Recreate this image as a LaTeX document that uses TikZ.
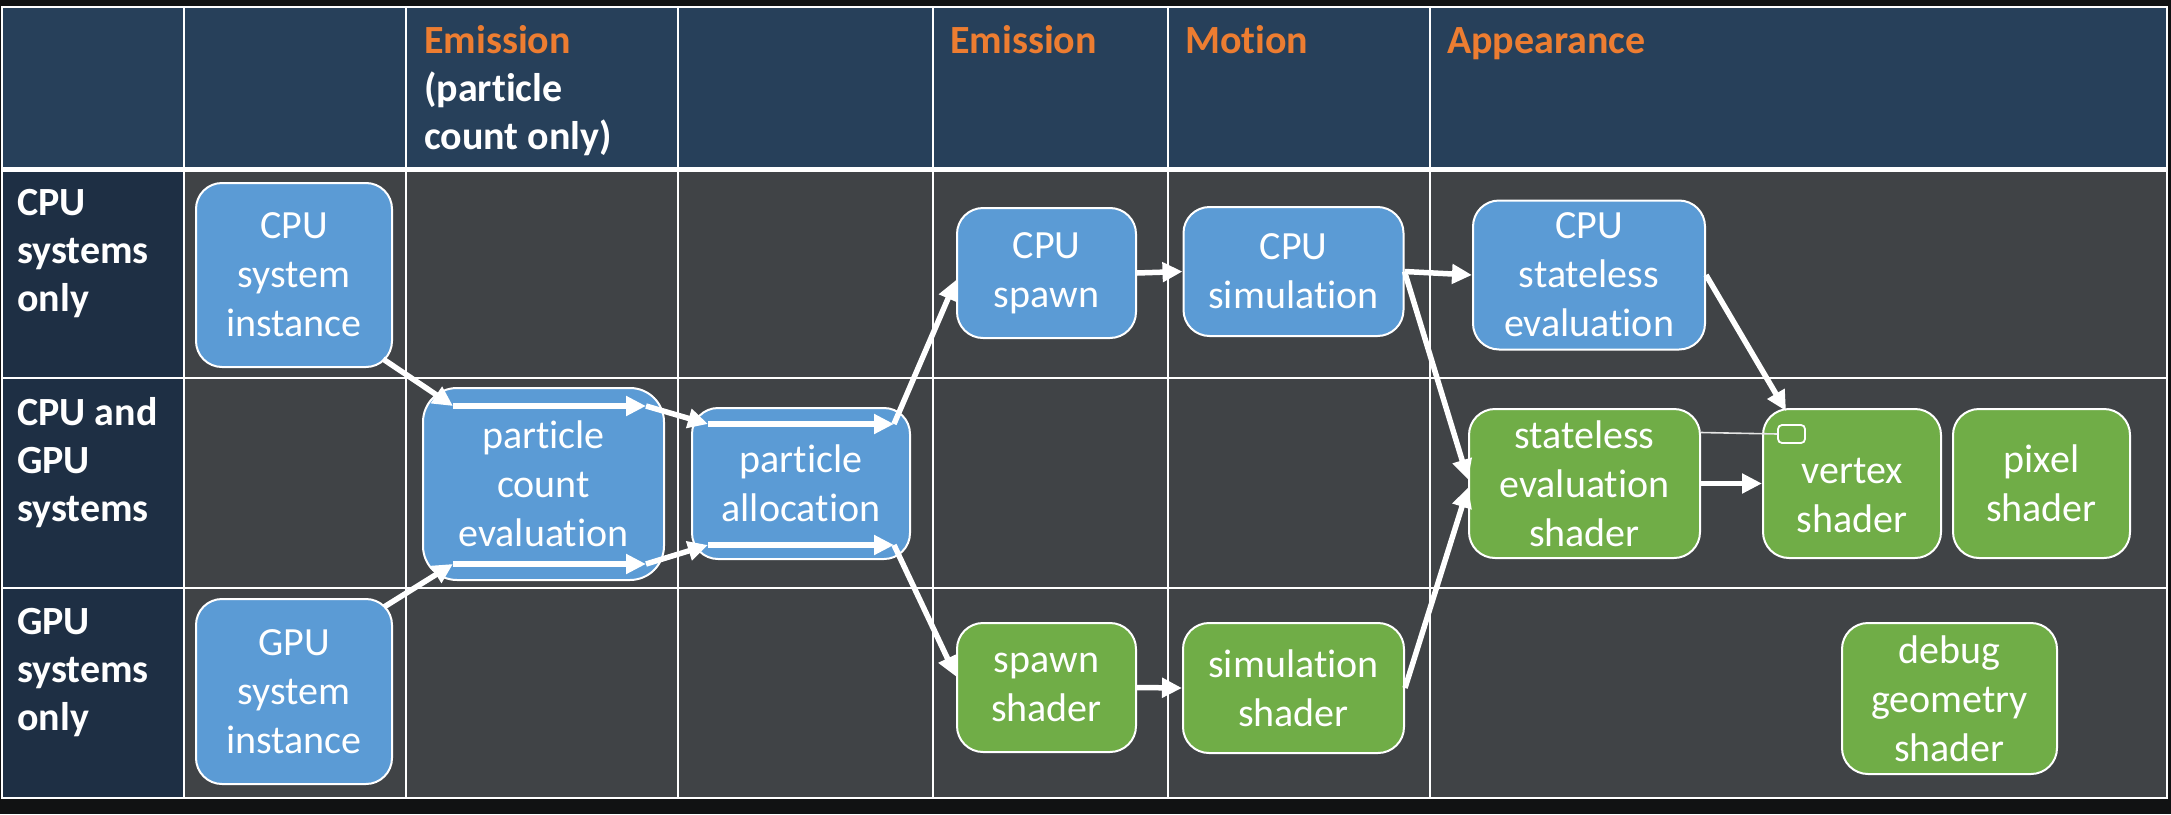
\documentclass[tikz,border=0pt]{standalone}
\usepackage{fontspec}
\setmainfont{Carlito}[Ligatures=NoCommon]
\usetikzlibrary{arrows.meta,calc}
\definecolor{bgblack}{HTML}{111213}
\definecolor{navyhead}{HTML}{27405A}
\definecolor{navyside}{HTML}{1E2F44}
\definecolor{bodygray}{HTML}{404346}
\definecolor{boxblue}{HTML}{5B9BD5}
\definecolor{boxgreen}{HTML}{70AD47}
\definecolor{headorange}{HTML}{ED7D31}
\begin{document}
\begin{tikzpicture}[x=1pt,y=-1pt,
  box/.style={draw=white, line width=2pt, rounded corners=26pt, text=white, align=center, inner sep=0pt, font=\fontsize{40}{49}\selectfont},
  bluebox/.style={box, fill=boxblue},
  greenbox/.style={box, fill=boxgreen},
  arr/.style={draw=white, line width=5.5pt, -{Triangle[length=20pt,width=19pt]}},
  gridline/.style={draw=white, line width=2pt},
  hdr/.style={anchor=base west, align=left, inner sep=0pt, text=white, font=\bfseries\fontsize{40}{48}\selectfont},
]
\useasboundingbox (0,0) rectangle (2171,814);
% background
\fill[bgblack] (0,0) rectangle (2171,814);
\fill[navyhead] (2,7) rectangle (2167,168);
\fill[navyside] (2,168) rectangle (184,798);
\fill[bodygray] (184,168) rectangle (2167,798);
% grid
\draw[gridline] (2,7) rectangle (2167,798);
\draw[white, line width=5pt] (2,169) -- (2167,169);
\foreach \yy in {378,588} \draw[gridline] (2,\yy) -- (2167,\yy);
\foreach \xx in {184,406,678,933,1168,1430} \draw[gridline] (\xx,7) -- (\xx,798);
% headers (anchor base = last line)
\node[hdr] (h3) at (424,149) {\textcolor{headorange}{Emission}\\(particle\\count only)};
\node[hdr, text=headorange] (h5) at (950,53) {Emission};
\node[hdr, text=headorange] (h6) at (1185,53) {Motion};
\node[hdr, text=headorange] (h7) at (1447,53) {Appearance};
\node[hdr] (r1) at (17,311) {CPU\\systems\\only};
\node[hdr] (r2) at (17,521) {CPU and\\GPU\\systems};
\node[hdr] (r3) at (17,730) {GPU\\systems\\only};
% boxes
\node[bluebox, minimum width=196pt, minimum height=184pt] (cpuinst) at (294,275) {CPU\\system\\instance};
\node[bluebox, minimum width=196pt, minimum height=185pt] (gpuinst) at (294,691.5) {GPU\\system\\instance};
\node[bluebox, minimum width=241pt, minimum height=192pt, rounded corners=34pt] (counteval) at (543.5,484) {particle\\count\\evaluation};
\node[bluebox, minimum width=218pt, minimum height=151pt] (alloc) at (801,483.5) {particle\\allocation};
\node[bluebox, minimum width=179pt, minimum height=130pt] (cpuspawn) at (1046.5,273) {CPU\\spawn};
\node[bluebox, minimum width=220pt, minimum height=129pt] (cpusim) at (1293.5,271.5) {CPU\\simulation};
\node[bluebox, minimum width=232pt, minimum height=149pt] (cpustateless) at (1589,275) {CPU\\stateless\\evaluation};
\node[greenbox, minimum width=231pt, minimum height=149pt] (slshader) at (1584.5,483.5) {stateless\\evaluation\\shader};
\node[greenbox, minimum width=178pt, minimum height=149pt] (vertex) at (1852,483.5) {\rule{0pt}{50pt}vertex\\shader};
\node[greenbox, minimum width=177pt, minimum height=149pt] (pixel) at (2041.5,483.5) {pixel\\shader};
\node[greenbox, minimum width=179pt, minimum height=129pt] (spawnsh) at (1046.5,687.5) {spawn\\shader};
\node[greenbox, minimum width=221pt, minimum height=130pt] (simsh) at (1293.5,688) {simulation\\shader};
\node[greenbox, minimum width=215pt, minimum height=151pt] (debug) at (1949.5,698.5) {debug\\geometry\\shader};
\node[draw=white, line width=1.8pt, fill=boxgreen, rounded corners=4pt, minimum width=27pt, minimum height=18pt, inner sep=0pt] (smallbox) at (1791.5,434) {};
% junction points
\coordinate (ci1) at ($(cpuinst.south east)+(-10,-9)$);
\coordinate (gi1) at ($(gpuinst.north east)+(-9,9)$);
\coordinate (ceT1) at (453,406);
\coordinate (ceT2) at (646,406);
\coordinate (alT1) at (708,424);
\coordinate (alT2) at (894,424);
\coordinate (ceB1) at (453,564);
\coordinate (ceB2) at (646,564);
\coordinate (alB1) at (708,545);
\coordinate (alB2) at (894,545);
\coordinate (spawnin) at ($(cpuspawn.west)+(0,7)$);
\coordinate (spawnshin) at ($(spawnsh.west)+(0,-11)$);
\coordinate (slin1) at ($(slshader.west)+(0,-4)$);
\coordinate (slin2) at ($(slshader.west)+(0,4)$);
\coordinate (vtxin) at ($(vertex.north west)+(24,3)$);
\coordinate (thinstart) at ($(slshader.east)+(0,-51)$);
% thin link
\draw[white!80!gray, line width=1.6pt] (thinstart) -- (smallbox.west);
% arrows
\draw[arr] (ci1) -- (ceT1);
\draw[arr] (ceT1) -- (ceT2);
\draw[arr] (ceT2) -- (alT1);
\draw[arr] (alT1) -- (alT2);
\draw[arr] (alT2) -- (spawnin);
\draw[arr] (gi1) -- (ceB1);
\draw[arr] (ceB1) -- (ceB2);
\draw[arr] (ceB2) -- (alB1);
\draw[arr] (alB1) -- (alB2);
\draw[arr] (alB2) -- (spawnshin);
\draw[arr] (cpuspawn.east) -- (cpusim.west);
\draw[arr] (spawnsh.east) -- (simsh.west);
\draw[arr] (cpusim.east) -- (cpustateless.west);
\draw[arr] (cpusim.east) -- (slin1);
\draw[arr] (simsh.east) -- (slin2);
\draw[arr] (slshader.east) -- (vertex.west);
\draw[arr] (cpustateless.east) -- (vtxin);
\end{tikzpicture}
\end{document}
